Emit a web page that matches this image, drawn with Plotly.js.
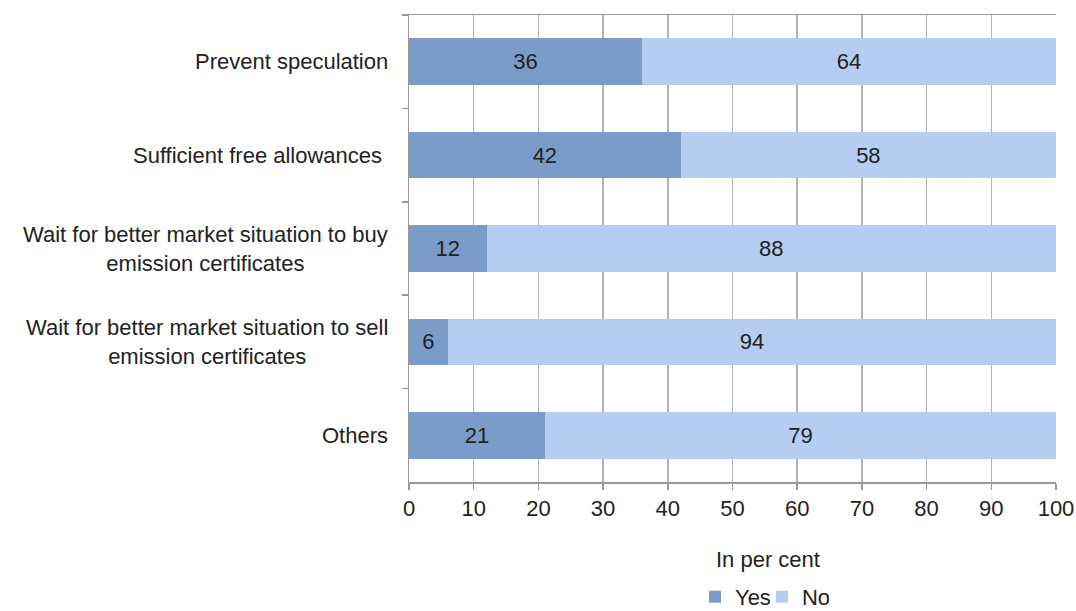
<!DOCTYPE html>
<html>
<head>
<meta charset="utf-8">
<script src="https://cdn.plot.ly/plotly-3.0.1.min.js"></script>
<style>body{margin:0;padding:0;background:#fff;}#chart{width:1076px;height:611px;}</style>
</head>
<body>
<div id="chart"></div>
<script>
var categories = [
  "Prevent speculation",
  "Sufficient free allowances ",
  "Wait for better market situation to buy<br>emission certificates",
  "Wait for better market situation to sell<br>emission certificates",
  "Others"
];
var yesValues = [36, 42, 12, 6, 21];
var noValues = [64, 58, 88, 94, 79];
var xTicks = [0, 10, 20, 30, 40, 50, 60, 70, 80, 90, 100];

var FONT = "Liberation Sans, Arial, sans-serif";
var TXT = "#222222";
var FS = 22;

var traces = [
  {
    type: "bar", orientation: "h", name: "Yes",
    y: categories, x: yesValues,
    marker: {color: "#7b9cc8"},
    text: yesValues.map(String), textposition: "inside", insidetextanchor: "middle",
    textfont: {family: FONT, size: FS, color: TXT},
    hoverinfo: "x+y"
  },
  {
    type: "bar", orientation: "h", name: "No",
    y: categories, x: noValues,
    marker: {color: "#b4cdf0"},
    text: noValues.map(String), textposition: "inside", insidetextanchor: "middle",
    textfont: {family: FONT, size: FS, color: TXT},
    hoverinfo: "x+y"
  }
];

var annotations = categories.map(function (c) {
  return {
    xref: "paper", yref: "y", x: -0.03, y: c,
    xanchor: "right", yanchor: "middle", align: "center",
    text: c, showarrow: false,
    font: {family: FONT, size: FS, color: TXT}
  };
});
annotations.push({
  xref: "paper", yref: "paper", x: 0.555, y: -0.165,
  xanchor: "center", yanchor: "middle",
  text: "In per cent", showarrow: false,
  font: {family: FONT, size: FS, color: TXT}
});

var layout = {
  width: 1076, height: 611,
  margin: {l: 409, r: 20, t: 15, b: 129, pad: 0, autoexpand: false},
  paper_bgcolor: "#ffffff", plot_bgcolor: "#ffffff",
  barmode: "stack", bargap: 0.5,
  font: {family: FONT, size: FS, color: TXT},
  showlegend: true,
  legend: {
    orientation: "h", x: 0.442, xanchor: "left", y: -0.246, yanchor: "middle",
    font: {family: FONT, size: FS, color: TXT},
    itemwidth: 30, traceorder: "normal", tracegroupgap: 0, entrywidth: 22
  },
  xaxis: {
    range: [0, 100], tickvals: xTicks, ticktext: xTicks.map(String),
    showgrid: true, gridcolor: "#b3b3b3", gridwidth: 1.5,
    showline: true, linecolor: "#999999", linewidth: 1.5, mirror: true,
    ticks: "outside", ticklen: 6, tickcolor: "#999999", tickwidth: 1.5,
    zeroline: false, fixedrange: true,
    tickfont: {family: FONT, size: FS, color: TXT}
  },
  yaxis: {
    type: "category", autorange: "reversed",
    showticklabels: false, tickson: "boundaries",
    ticks: "outside", ticklen: 6, tickcolor: "#999999", tickwidth: 1.5,
    showline: true, linecolor: "#999999", linewidth: 1.5,
    showgrid: false, zeroline: false, fixedrange: true
  },
  annotations: annotations
};

Plotly.newPlot("chart", traces, layout, {displayModeBar: false, staticPlot: true});
</script>
</body>
</html>
